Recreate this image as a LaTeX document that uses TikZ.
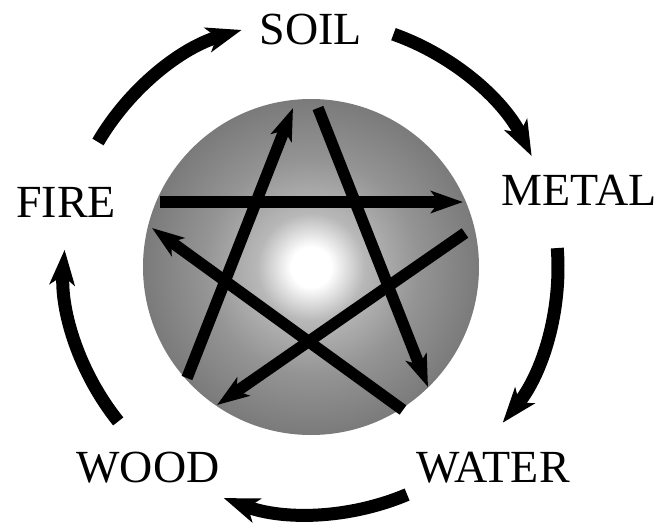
\documentclass[tikz,border=0pt]{standalone}
\usepackage{fontspec}
\setmainfont{Liberation Serif}
\usetikzlibrary{arrows.meta}
\pgfdeclareradialshading{orb}{\pgfpoint{0bp}{0bp}}{%
  color(0bp)=(white); color(3bp)=(white); color(8bp)=(black!28);
  color(16bp)=(black!42); color(25bp)=(black!52); color(50bp)=(black!52)}
\tikzset{
  element/.style={font=\fontsize{46}{50}\selectfont,inner sep=0pt},
  generate/.style={line width=13pt,-{Stealth[length=35pt,width=25pt,inset=9pt]}},
  overcome/.style={line width=11.5pt,-{Stealth[length=32pt,width=22pt,inset=8pt]}}
}

\begin{document}
\begin{tikzpicture}[x=1pt,y=1pt]
  \useasboundingbox (-311,-258) rectangle (344,267);
  \shade[shading=orb] (0,0) circle (168);

  % the five elements
  \node[element] (soil) at (0,238) {SOIL};
  \node[element] (metal) at (268,77) {METAL};
  \node[element] (water) at (182,-201) {WATER};
  \node[element] (wood) at (-163,-201) {WOOD};
  \node[element] (fire) at (-245,65) {FIRE};

  % star ends
  \coordinate (fireA) at (-151,65);
  \coordinate (metalA) at (152,65);
  \coordinate (woodA) at (-124,-111);
  \coordinate (soilA) at (-18,159);
  \coordinate (soilB) at (7,159);
  \coordinate (waterA) at (117,-120);
  \coordinate (metalB) at (154,34);
  \coordinate (woodB) at (-94,-138);
  \coordinate (waterB) at (92,-143);
  \coordinate (fireB) at (-159,39);

  \draw[overcome] (fireA) -- (metalA);
  \draw[overcome] (woodA) -- (soilA);
  \draw[overcome] (soilB) -- (waterA);
  \draw[overcome] (metalB) -- (woodB);
  \draw[overcome] (waterB) -- (fireB);

  % outer ring
  \coordinate (fireOut) at (149.6:247);
  \coordinate (soilOut) at (70.5:247);
  \coordinate (metalOut) at (4.4:247);
  \coordinate (waterOut) at (-67.1:247);
  \coordinate (woodOut) at (-141.3:247);

  \draw[generate] (fireOut) arc[start angle=149.6,end angle=106.3,radius=247];
  \draw[generate] (soilOut) arc[start angle=70.5,end angle=26.7,radius=247];
  \draw[generate] (metalOut) arc[start angle=4.4,end angle=-39.1,radius=247];
  \draw[generate] (waterOut) arc[start angle=-67.1,end angle=-110.7,radius=247];
  \draw[generate] (woodOut) arc[start angle=-141.3,end angle=-184,radius=247];
\end{tikzpicture}
\end{document}
